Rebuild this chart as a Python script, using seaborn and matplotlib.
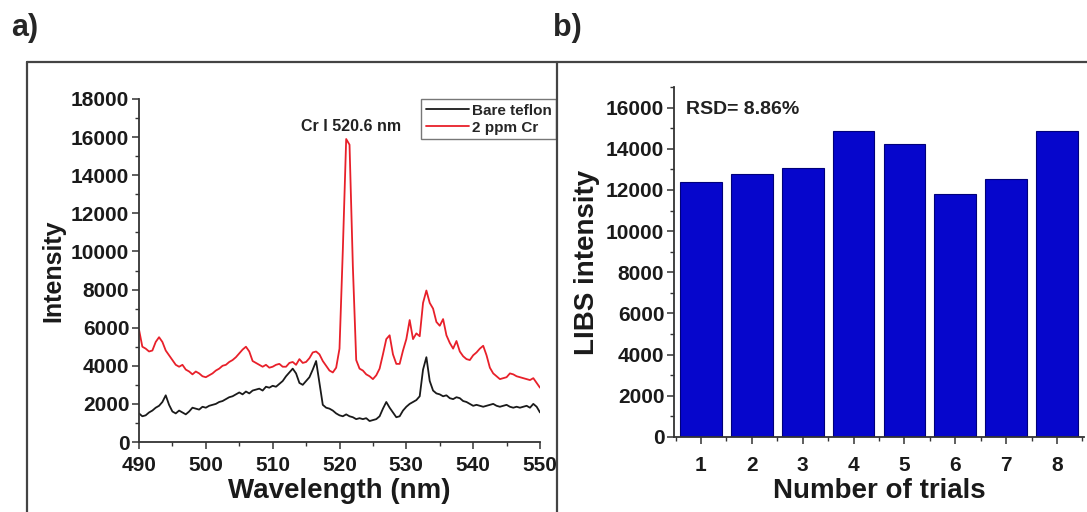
import matplotlib
matplotlib.use("Agg")
import matplotlib.pyplot as plt
from matplotlib.lines import Line2D
from matplotlib.ticker import MultipleLocator
import seaborn as sns
import pandas as pd
import numpy as np

# Spectrum data (0.5 nm steps from 490 to 550 nm)
wavelength = np.arange(490, 550.5, 0.5)

cr_2ppm = [
    5900, 5000, 4900, 4750, 4800, 5250, 5500, 5250, 4800, 4550,
    4300, 4050, 3950, 4050, 3800, 3700, 3550, 3700, 3600, 3450,
    3400, 3500, 3600, 3750, 3850, 4000, 4050, 4200, 4300, 4450,
    4650, 4850, 5000, 4750, 4250, 4150, 4050, 3950, 4050, 3900,
    3950, 4050, 4100, 3950, 3950, 4150, 4200, 4050, 4350, 4150,
    4200, 4400, 4700, 4750, 4600, 4250, 4000, 3750, 3650, 3900,
    4900, 10100, 15900, 15600, 9200, 4300, 3850, 3750, 3550, 3450,
    3300, 3500, 3850, 4600, 5400, 5600, 4600, 4100, 4100, 4800,
    5400, 6400, 5400, 5700, 5550, 7300, 7950, 7300, 7000, 6300,
    6100, 6450, 5600, 5200, 4900, 5300, 4750, 4500, 4350, 4300,
    4550, 4700, 4900, 5050, 4550, 3900, 3600, 3450, 3300, 3350,
    3400, 3600, 3550, 3450, 3400, 3350, 3300, 3250, 3350, 3100,
    2850,
]

bare_teflon = [
    1500, 1350, 1400, 1550, 1650, 1800, 1900, 2100, 2450, 1950,
    1600, 1500, 1650, 1550, 1450, 1600, 1800, 1750, 1700, 1850,
    1800, 1900, 1950, 2000, 2100, 2150, 2250, 2350, 2400, 2500,
    2600, 2500, 2650, 2550, 2700, 2750, 2800, 2700, 2900, 2850,
    2950, 2900, 3050, 3200, 3450, 3650, 3850, 3600, 3100, 3000,
    3200, 3400, 3800, 4250, 3100, 1950, 1800, 1750, 1650, 1500,
    1400, 1350, 1450, 1350, 1300, 1200, 1250, 1200, 1250, 1100,
    1150, 1200, 1350, 1750, 2100, 1800, 1550, 1300, 1350, 1650,
    1850, 2000, 2100, 2200, 2400, 3800, 4450, 3200, 2700, 2550,
    2500, 2400, 2450, 2300, 2250, 2350, 2300, 2150, 2100, 2000,
    1900, 1950, 1900, 1850, 1900, 1950, 2000, 1900, 1850, 1900,
    1950, 1850, 1800, 1850, 1800, 1850, 1900, 1800, 2000, 1850,
    1550,
]

# Repeatability data
trials = ["1", "2", "3", "4", "5", "6", "7", "8"]
libs_intensity = [12400, 12780, 13070, 14850, 14250, 11800, 12520, 14850]

sns.set_style("ticks")
plt.rcParams["font.family"] = ["Liberation Sans", "DejaVu Sans"]
plt.rcParams["font.weight"] = "bold"
plt.rcParams["axes.labelweight"] = "bold"

W, H = 1087, 512
fig = plt.figure(figsize=(W / 100, H / 100), dpi=100)


def px_rect(x0, x1, y_top, y_bot):
    return [x0 / W, 1 - y_bot / H, (x1 - x0) / W, (y_bot - y_top) / H]


def style_axes(ax, xpad):
    sns.despine(ax=ax)
    for side in ["left", "bottom"]:
        ax.spines[side].set_linewidth(1.3)
        ax.spines[side].set_color("#333333")
    ax.tick_params(which="major", direction="out", length=5, width=1.1, labelsize=15, pad=2,
                   color="#333333", labelcolor="#1a1a1a")
    ax.tick_params(axis="x", which="major", pad=xpad)
    ax.tick_params(which="minor", direction="out", length=3, width=1.0, color="#333333")
    for lab in ax.get_xticklabels() + ax.get_yticklabels():
        lab.set_fontweight("bold")


# ---------------- panel a) ----------------
ax1 = fig.add_axes(px_rect(139, 540, 99, 442))
spec = pd.DataFrame({"Wavelength": wavelength, "Bare teflon": bare_teflon, "2 ppm Cr": cr_2ppm})
sns.lineplot(data=spec, x="Wavelength", y="Bare teflon", ax=ax1, color="#1a1a1a", linewidth=1.3, label="Bare teflon")
sns.lineplot(data=spec, x="Wavelength", y="2 ppm Cr", ax=ax1, color="#e8202a", linewidth=1.3, label="2 ppm Cr")
ax1.set_xlim(490, 550)
ax1.set_ylim(0, 18000)
ax1.xaxis.set_major_locator(MultipleLocator(10))
ax1.xaxis.set_minor_locator(MultipleLocator(5))
ax1.yaxis.set_major_locator(MultipleLocator(2000))
ax1.yaxis.set_minor_locator(MultipleLocator(1000))
ax1.set_xlabel("Wavelength (nm)", fontsize=20, fontweight="bold", labelpad=2, color="#1a1a1a")
ax1.set_ylabel("Intensity", fontsize=18, fontweight="bold", labelpad=4, color="#1a1a1a")
style_axes(ax1, xpad=5)
ax1.text(521.8, 16550, "Cr I 520.6 nm", ha="center", va="center", fontsize=11.5, fontweight="bold", color="#222222")
leg = ax1.legend(loc="upper right", bbox_to_anchor=(1.04, 1.0), fontsize=11, frameon=True, fancybox=False,
                 edgecolor="#555555", handlelength=2.8, handletextpad=0.2, borderpad=0.3, labelspacing=0.2,
                 borderaxespad=0.0)
leg.get_frame().set_linewidth(1.0)
for t in leg.get_texts():
    t.set_fontweight("bold")

# ---------------- panel b) ----------------
ax2 = fig.add_axes(px_rect(674, 1084, 87, 437))
bars = pd.DataFrame({"Trial": trials, "LIBS intensity": libs_intensity})
sns.barplot(data=bars, x="Trial", y="LIBS intensity", ax=ax2, color="#0606cc", width=0.82,
            edgecolor="#00007a", linewidth=0.8, saturation=1)
ax2.set_xlim(-0.53, 7.53)
ax2.set_ylim(0, 17000)
ax2.set_xticks(np.arange(-0.5, 8, 1), minor=True)
ax2.yaxis.set_major_locator(MultipleLocator(2000))
ax2.yaxis.set_minor_locator(MultipleLocator(1000))
ax2.set_xlabel("Number of trials", fontsize=20, fontweight="bold", labelpad=2, color="#1a1a1a")
ax2.set_ylabel("LIBS intensity", fontsize=20, fontweight="bold", labelpad=4, color="#1a1a1a")
style_axes(ax2, xpad=9)
ax2.text(-0.3, 15900, "RSD= 8.86%", ha="left", va="center", fontsize=14, fontweight="bold", color="#222222")

# ---------------- frame and panel labels ----------------
frame_kw = dict(color="#444444", linewidth=1.6, transform=fig.transFigure)
fig.add_artist(Line2D([27 / W, 1], [1 - 62 / H, 1 - 62 / H], **frame_kw))
fig.add_artist(Line2D([27 / W, 27 / W], [0, 1 - 62 / H], **frame_kw))
fig.add_artist(Line2D([557 / W, 557 / W], [0, 1 - 62 / H], **frame_kw))

fig.text(11 / W, 1 - 28 / H, "a)", fontsize=22, fontweight="bold", va="center", ha="left")
fig.text(553 / W, 1 - 28 / H, "b)", fontsize=22, fontweight="bold", va="center", ha="left")

fig.savefig("out.png", dpi=100)
